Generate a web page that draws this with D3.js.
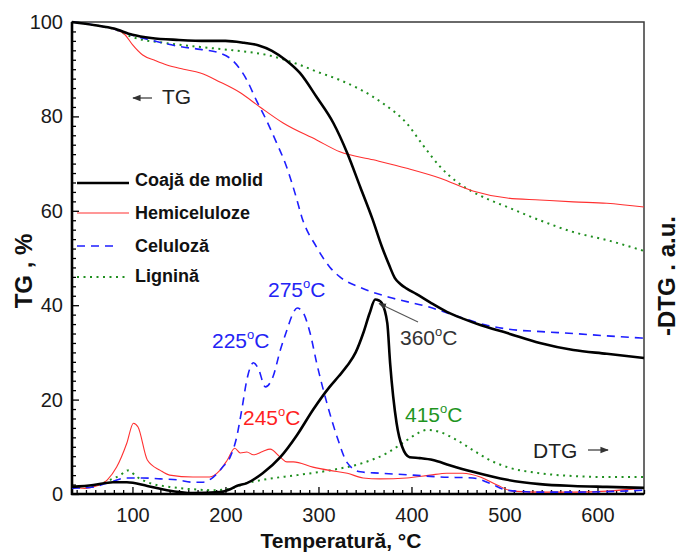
<!DOCTYPE html>
<html>
<head>
<meta charset="utf-8">
<script src="https://cdn.jsdelivr.net/npm/d3@7"></script>
<style>
  html, body { margin: 0; padding: 0; background: #fff; }
  svg { display: block; }
  text { font-family: "Liberation Sans", Arial, sans-serif; }
</style>
</head>
<body>
<svg id="chart" width="679" height="553"></svg>
<script>
// ---------- DATA ----------
const seriesNames = ["Coajă de molid", "Hemiceluloze", "Celuloză", "Lignină"];

// TG curves (temperature °C, mass %)
const molidTgT = [35,60,80,100,120,150,180,200,220,235,250,265,280,298,316,331,345,358,368,376,382,388,395,405,420,438,456,474,503,538,574,610,650];
const molidTgV = [100,99.3,98.6,97.3,96.6,96.2,96,96,95.6,95.1,93.9,91.9,89.2,84.1,78.6,72.2,65,58.3,52.5,48.5,45.8,44.5,43.5,42.4,40.6,38.6,37.1,35.8,34.1,32,30.5,29.7,28.8];

const hemiTgT = [35,60,80,92,100,111,125,137,155,173,194,216,237,262,298,323,359,395,431,466,503,538,574,610,650];
const hemiTgV = [100,99.3,98.5,97.3,95.2,93,91.8,90.9,90,89.2,87.3,85,82,78.6,75,72.5,70.8,69,66.9,64.2,62.7,62.3,61.9,61.6,60.8];

const celTgT = [35,60,80,100,119,154,173,194,208,223,233,244,255,265,276,282,298,312,323,347,376,419,455,480,505,540,574,610,650];
const celTgV = [100,99.3,98.5,97.2,96.2,94.7,94.2,93.4,91.8,87.7,83.5,79.2,74.4,69.7,62.9,58.7,52.3,48.1,46,43.6,41.7,39.6,37.3,35.8,34.9,34.4,34,33.5,33];

const ligTgT = [35,60,80,100,137,173,208,245,280,298,323,345,369,395,412,431,449,466,484,503,538,574,610,650];
const ligTgV = [100,99.3,98.5,96.8,95.5,94.7,94,93,90.9,89.5,87.7,85.7,82.8,78.5,74,69.3,66.1,64,62.3,60.8,58,55.5,53.8,51.5];

// DTG curves (temperature °C, -DTG a.u. drawn on same scale)
const molidDtgT = [35,58,79,94,116,137,165,194,205,212,223,240,259,277,294,312,322,331,340,348,355,361,365,368,374,377,384,390,398,409,423,441,466,503,538,574,610,650];
const molidDtgV = [1.5,1.9,2.5,2.5,1.7,0.8,0.2,0.4,1,1.7,2.3,4.4,7.8,12.5,17.8,22.7,25,27.2,30,34,38.3,41.2,41,40.5,36.2,27.8,15,10,7.8,7.6,7.2,6.1,4.7,3,2.1,1.7,1.5,1.3];

const hemiDtgT = [35,49,58,73,83,94,101,106,116,130,140,165,183,194,202,210,216,223,230,240,248,259,266,273,294,312,331,348,366,395,420,438,455,474,492,509,538,574,610,650];
const hemiDtgV = [1.5,1.2,1.5,3,5.7,10.8,15,14.2,7.2,5,4,3.6,3.6,5,7.2,9.7,8.7,8.9,8.3,9,9.5,7.8,6.8,6.8,5.7,5,4.4,3.4,3.2,3.4,4,4.4,4.4,3.6,1.9,0.6,0.4,0.4,0.6,1.3];

const celDtgT = [35,58,76,94,111,130,148,165,176,187,197,205,212,218,223,227,230,235,243,251,259,266,272,277,283,291,298,309,320,331,345,366,402,431,466,484,503,538,574,610,650];
const celDtgV = [1.2,1.5,2.5,3.4,3.4,3.2,3,2.5,2.5,3.6,5.7,7.8,12,18.4,24.2,27,27.8,26.7,22.7,24.8,30.5,34.7,38,39.4,38.6,34.1,27.8,19.3,12.1,6.6,4.7,4.4,4,3.6,3.4,2.3,0.8,0.4,0.4,0.5,0.8];

const ligDtgT = [35,58,76,87,95,105,119,140,165,187,202,223,240,277,312,348,374,395,409,417,431,449,466,484,503,538,574,610,650];
const ligDtgV = [1.5,1.7,3,4,5,3.6,2.3,1.5,1,0.8,1,2.3,3,4,5,6.6,8.7,11.4,13.1,13.6,13.1,11.4,9.3,7.2,5.7,4.4,3.8,3.6,3.6];

const xTickLabels = [100,200,300,400,500,600];
const yTickLabels = [0,20,40,60,80,100];

const peakLabels = [
  {num: "225", t: 225, v: 27.8, series: 2},
  {num: "275", t: 275, v: 39.4, series: 2},
  {num: "245", t: 245, v: 9.5, series: 1},
  {num: "360", t: 360, v: 41.2, series: 0},
  {num: "415", t: 415, v: 13.6, series: 3}
];

// ---------- STYLE ----------
const colors = ["#000000", "#ff3030", "#1e1eff", "#1f8f1f"];
const labelColors = ["#333333", "#ff1f1f", "#2323f5", "#1f951f"];
const widths = [2.6, 1.1, 1.6, 2.0];
const dashes = [null, null, "8,6", "2,4.5"];

const svg = d3.select("#chart");
const L = 72, R = 644, T = 22, B = 494;
const x = d3.scaleLinear().domain([35, 650]).range([L, R]);
const y = d3.scaleLinear().domain([0, 100]).range([B, T]);

// frame
svg.append("rect").attr("x", L).attr("y", T).attr("width", R - L).attr("height", B - T)
  .attr("fill", "none").attr("stroke", "#3a3a3a").attr("stroke-width", 1.5);

// axes with inward ticks
const xMinor = d3.range(40, 651, 10).filter(d => d % 100 !== 0);
const xAxisMinor = d3.axisBottom(x).tickValues(xMinor).tickSize(-4).tickFormat("");
const xAxisMajor = d3.axisBottom(x).tickValues(xTickLabels).tickSize(-7).tickPadding(14).tickFormat(d3.format("d"));
const yMinor = d3.range(0, 101, 2).filter(d => d % 20 !== 0);
const yAxisMinor = d3.axisLeft(y).tickValues(yMinor).tickSize(-4).tickFormat("");
const yAxisMajor = d3.axisLeft(y).tickValues(yTickLabels).tickSize(-7).tickPadding(9).tickFormat(d3.format("d"));

function styleAxis(g) {
  g.select(".domain").remove();
  g.selectAll(".tick line").attr("stroke", "#000").attr("stroke-width", 1.3);
  g.selectAll(".tick text").attr("fill", "#1a1a1a").style("font-size", "20px")
    .style("font-family", "'Liberation Sans', Arial, sans-serif");
}
svg.append("g").attr("transform", `translate(0,${B})`).call(xAxisMinor).call(styleAxis);
svg.append("g").attr("transform", `translate(0,${B})`).call(xAxisMajor).call(styleAxis);
svg.append("g").attr("transform", `translate(${L},0)`).call(yAxisMinor).call(styleAxis);
svg.append("g").attr("transform", `translate(${L},0)`).call(yAxisMajor).call(styleAxis);

// thick left & bottom axis lines
svg.append("line").attr("x1", L).attr("x2", L).attr("y1", T).attr("y2", B + 1).attr("stroke", "#000").attr("stroke-width", 2.6);
svg.append("line").attr("x1", L - 1).attr("x2", R).attr("y1", B).attr("y2", B).attr("stroke", "#000").attr("stroke-width", 2.6);

// curves
const line = d3.line().x(d => x(d[0])).y(d => y(d[1])).curve(d3.curveMonotoneX);
const tg = [[molidTgT, molidTgV], [hemiTgT, hemiTgV], [celTgT, celTgV], [ligTgT, ligTgV]];
const dtg = [[molidDtgT, molidDtgV], [hemiDtgT, hemiDtgV], [celDtgT, celDtgV], [ligDtgT, ligDtgV]];
const order = [3, 1, 2, 0];
const plotG = svg.append("g");
function draw(set) {
  order.forEach(i => {
    const pts = set[i][0].map((t, k) => [t, set[i][1][k]]);
    plotG.append("path").datum(pts).attr("d", line)
      .attr("fill", "none").attr("stroke", colors[i]).attr("stroke-width", widths[i])
      .attr("stroke-dasharray", dashes[i]).attr("stroke-linejoin", "round");
  });
}
draw(tg);
draw(dtg);

// legend
const legY = [183, 213, 246, 277];
const legTextY = [186, 219, 251.5, 282];
seriesNames.forEach((name, i) => {
  svg.append("line").attr("x1", 77).attr("x2", i === 2 ? 118 : 129).attr("y1", legY[i]).attr("y2", legY[i])
    .attr("stroke", colors[i]).attr("stroke-width", widths[i]).attr("stroke-dasharray", dashes[i]);
  svg.append("text").attr("x", 135).attr("y", legTextY[i]).text(name)
    .attr("fill", "#111").style("font-size", "18px").style("font-weight", "bold");
});

// arrow marker
const defs = svg.append("defs");
defs.append("marker").attr("id", "arr").attr("viewBox", "0 0 10 10").attr("refX", 9).attr("refY", 5)
  .attr("markerWidth", 7).attr("markerHeight", 7).attr("orient", "auto-start-reverse")
  .append("path").attr("d", "M0,1 L10,5 L0,9 Z").attr("fill", "#333");

// TG / DTG indicators
svg.append("line").attr("x1", 152).attr("x2", 133).attr("y1", 98).attr("y2", 98)
  .attr("stroke", "#333").attr("stroke-width", 1.2).attr("marker-end", "url(#arr)");
svg.append("text").attr("x", 162).attr("y", 104).text("TG").attr("fill", "#222").style("font-size", "21px");
svg.append("text").attr("x", 533).attr("y", 458).text("DTG").attr("fill", "#222").style("font-size", "21px");
svg.append("line").attr("x1", 588).attr("x2", 608).attr("y1", 450).attr("y2", 450)
  .attr("stroke", "#333").attr("stroke-width", 1.2).attr("marker-end", "url(#arr)");

// peak labels
const labelPos = [[212, 348], [268, 297], [243, 425], [400, 345], [405, 422]];
peakLabels.forEach((p, k) => {
  const tx = svg.append("text").attr("x", labelPos[k][0]).attr("y", labelPos[k][1])
    .attr("fill", labelColors[p.series]).style("font-size", "21px");
  tx.append("tspan").text(p.num);
  tx.append("tspan").text("o").attr("dy", -9).style("font-size", "13px");
  tx.append("tspan").text("C").attr("dy", 9);
});
// 360 arrow
svg.append("line").attr("x1", 418).attr("y1", 322).attr("x2", x(362) + 3).attr("y2", y(41.2) + 4)
  .attr("stroke", "#555").attr("stroke-width", 1.1).attr("marker-end", "url(#arr)");

// axis titles
svg.append("text").attr("transform", "translate(32,271) rotate(-90)").attr("text-anchor", "middle")
  .text("TG , %").attr("fill", "#111").style("font-size", "24px").style("font-weight", "bold");
svg.append("text").attr("transform", "translate(675,276) rotate(-90)").attr("text-anchor", "middle")
  .text("-DTG . a.u.").attr("fill", "#111").style("font-size", "24px").style("font-weight", "bold");
svg.append("text").attr("x", 341).attr("y", 548).attr("text-anchor", "middle")
  .text("Temperatură, °C").attr("fill", "#111").style("font-size", "21px").style("font-weight", "bold");
</script>
</body>
</html>
